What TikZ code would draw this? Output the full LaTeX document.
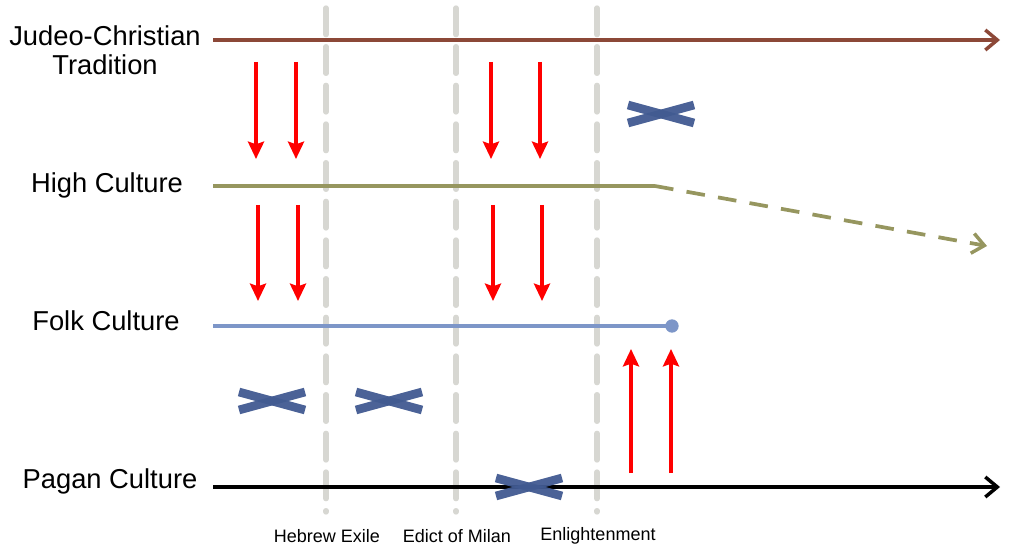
\documentclass[tikz,border=0pt]{standalone}
\usepackage{fontspec}
\setmainfont{Liberation Sans}
\usetikzlibrary{arrows.meta,positioning}
\definecolor{jcbrown}{RGB}{140,72,56}
\definecolor{hcolive}{RGB}{150,150,95}
\definecolor{fcblue}{RGB}{125,150,200}
\definecolor{xblue}{RGB}{65,90,145}
\definecolor{eragray}{RGB}{215,215,210}
\tikzset{
  era/.style={line width=4pt, eragray, dash pattern=on 20pt off 9pt, line cap=round},
  infl/.style={line width=3pt, red, -{Stealth[length=13pt,width=12pt,inset=2pt]}},
  lbl/.style={font=\fontsize{20.5}{23}\selectfont, align=center},
  small/.style={font=\fontsize{13.5}{16}\selectfont},
  blocked/.style={line width=6.5pt, xblue, draw opacity=0.95},
  flow/.style={line width=2.8pt}
}
\newcommand{\blockmark}[2]{%
  \draw[blocked] (#1-33,#2-9) -- (#1+33,#2+9);
  \draw[blocked] (#1-33,#2+9) -- (#1+33,#2-9);}
\begin{document}
\begin{tikzpicture}[x=0.75pt, y=-0.75pt]
  \useasboundingbox (0,0) rectangle (1024,552);
  % Eras
  \foreach \x/\name/\txt in {326/exile/Hebrew Exile, 456/milan/Edict of Milan, 597/enl/Enlightenment}{
    \draw[era] (\x,8) -- (\x,512);
    \node[small] (\name) at (\x+1,536) {\txt};
  }
  % Labels
  \node[lbl] (jc) at (105,50) {Judeo-Christian\\[-1pt]Tradition};
  \node[lbl] (high) at (107,185) {High Culture};
  \node[lbl] (folk) at (106,321) {Folk Culture};
  \node[lbl] (pagan) at (110,481) {Pagan Culture};
  % Traditions
  \coordinate (jcS) at (213,40);   \coordinate (jcE) at (1000,40);
  \coordinate (hcS) at (213,186);  \coordinate (hcK) at (655,186); \coordinate (hcE) at (987,246);
  \coordinate (fcS) at (213,326);  \coordinate (fcE) at (672,326);
  \coordinate (pcS) at (213,487);  \coordinate (pcE) at (1000,487);
  \draw[flow, jcbrown, -{Straight Barb[length=9pt,width=15pt,line width=2.6pt]}] (jcS) -- (jcE);
  \draw[flow, hcolive] (hcS) -- (hcK);
  \draw[flow, hcolive, dash pattern=on 14pt off 10pt, -{Straight Barb[length=9pt,width=15pt,line width=2.6pt]}] (hcK) -- (hcE);
  \draw[flow, fcblue] (fcS) -- (fcE);
  \fill[fcblue] (fcE) circle (5pt);
  \draw[flow, black, -{Straight Barb[length=9pt,width=15pt,line width=2.6pt]}] (pcS) -- (pcE);
  % Influences
  \foreach \x in {256,296,491,540}{
    \draw[infl] (\x,62) -- (\x,159);
    \draw[infl] (\x+2,205) -- (\x+2,301);
  }
  \foreach \x in {631,671}{
    \draw[infl] (\x,473) -- (\x,349);
  }
  % Blocked
  \blockmark{661}{114}
  \blockmark{272}{401}
  \blockmark{389}{401}
  \blockmark{529}{487}
\end{tikzpicture}
\end{document}
